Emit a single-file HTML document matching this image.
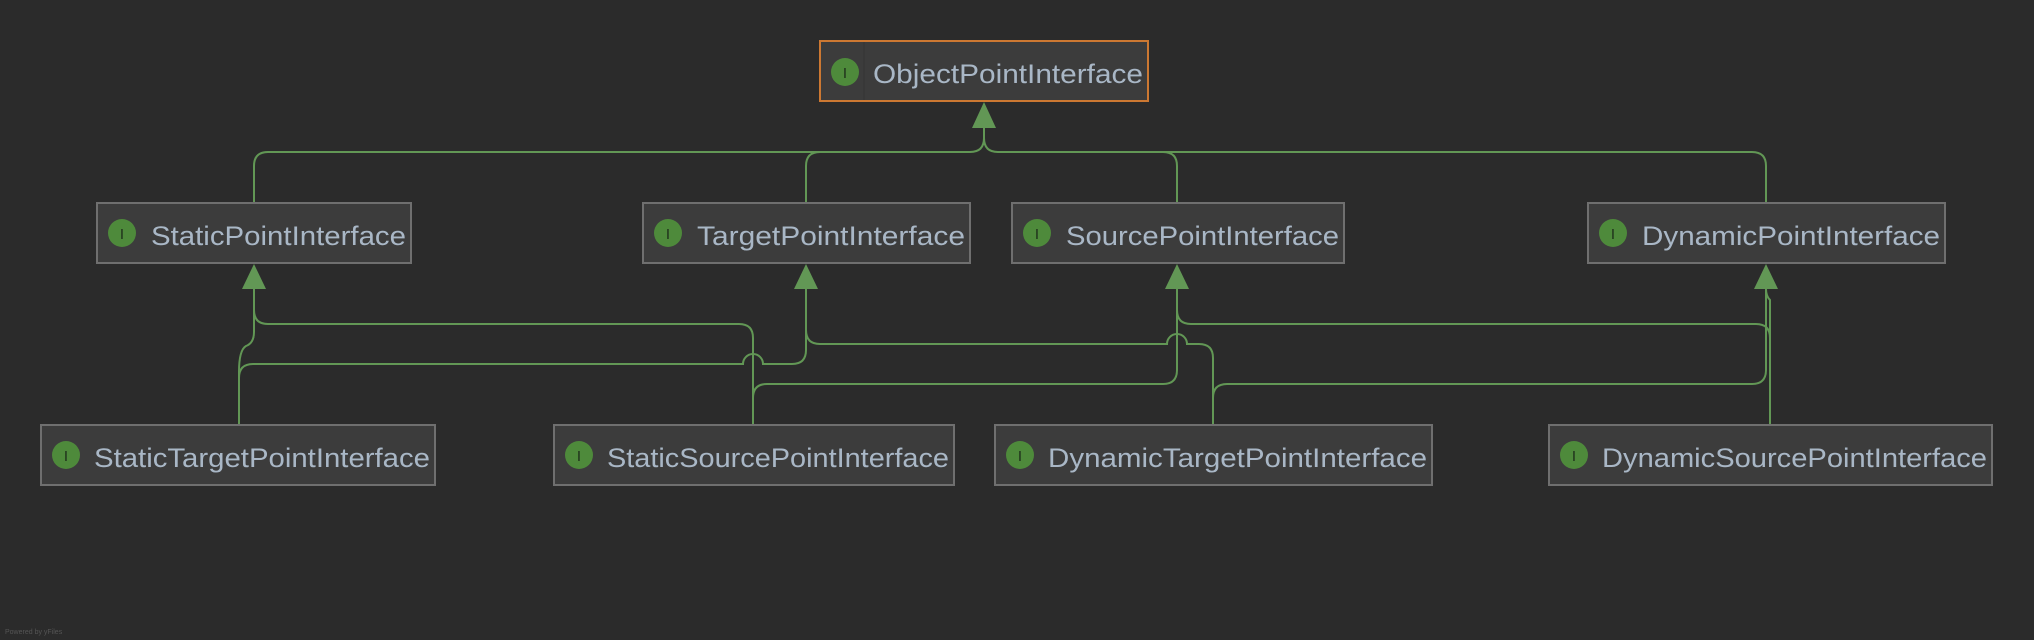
<!DOCTYPE html>
<html><head><meta charset="utf-8"><style>
html,body{margin:0;padding:0;background:#2b2b2b;width:2034px;height:640px;overflow:hidden}
svg{display:block}
text{font-family:"Liberation Sans",sans-serif}
</style></head><body>
<svg width="2034" height="640" viewBox="0 0 2034 640" xmlns="http://www.w3.org/2000/svg">
<rect width="2034" height="640" fill="#2b2b2b"/>
<g fill="none" stroke="#629755" stroke-width="2">
<path d="M984,127 V138 Q984,152 970,152 H268 Q254,152 254,166 V202"/>
<path d="M984,138 Q984,152 998,152 H1752 Q1766,152 1766,166 V202"/>
<path d="M820,152 Q806,152 806,166 V202"/>
<path d="M1163,152 Q1177,152 1177,166 V202"/>
<path d="M254,289 V310 Q254,324 268,324 H739 Q753,324 753,338 V425"/>
<path d="M254,300 V332 Q254,343 246,346 Q239,350 239,372 V425"/>
<path d="M239,378 Q239,364 253,364 H743 A10,10 0 0 1 763,364 H792 Q806,364 806,350 V289"/>
<path d="M806,289 V330 Q806,344 820,344 H1167 A10,10 0 0 1 1187,344 H1199 Q1213,344 1213,358 V425"/>
<path d="M753,425 V398 Q753,384 767,384 H1163 Q1177,384 1177,370 V289"/>
<path d="M1177,289 V310 Q1177,324 1191,324 H1756 Q1770,324 1770,338 V425"/>
<path d="M1770,425 V300 Q1766,296 1766,289"/>
<path d="M1213,398 Q1213,384 1227,384 H1752 Q1766,384 1766,370 V289"/>
</g>
<g fill="#629755">
<polygon points="984,102 972,128 996,128"/>
<polygon points="254,264 242,289 266,289"/>
<polygon points="806,264 794,289 818,289"/>
<polygon points="1177,264 1165,289 1189,289"/>
<polygon points="1766,264 1754,289 1778,289"/>
</g>
<g font-size="27" fill="#a9b7c6">
<!-- Object -->
<rect x="820" y="41" width="328" height="60" fill="#3c3c3c" stroke="#cc7832" stroke-width="2"/>
<line x1="864" y1="42" x2="864" y2="100" stroke="#353535" stroke-width="1"/>
<circle cx="845" cy="72" r="14" fill="#4e8a3b"/><text x="845" y="78" font-size="15" fill="#1e2e1a" text-anchor="middle" font-family="Liberation Serif">I</text>
<text x="873" y="83" textLength="270" lengthAdjust="spacingAndGlyphs">ObjectPointInterface</text>
<!-- Row 2 -->
<rect x="97" y="203" width="314" height="60" fill="#3c3c3c" stroke="#6f6f6f" stroke-width="2"/>
<circle cx="122" cy="233" r="14" fill="#4e8a3b"/><text x="122" y="239" font-size="15" fill="#1e2e1a" text-anchor="middle" font-family="Liberation Serif">I</text>
<text x="151" y="245" textLength="255" lengthAdjust="spacingAndGlyphs">StaticPointInterface</text>
<rect x="643" y="203" width="327" height="60" fill="#3c3c3c" stroke="#6f6f6f" stroke-width="2"/>
<circle cx="668" cy="233" r="14" fill="#4e8a3b"/><text x="668" y="239" font-size="15" fill="#1e2e1a" text-anchor="middle" font-family="Liberation Serif">I</text>
<text x="697" y="245" textLength="268" lengthAdjust="spacingAndGlyphs">TargetPointInterface</text>
<rect x="1012" y="203" width="332" height="60" fill="#3c3c3c" stroke="#6f6f6f" stroke-width="2"/>
<circle cx="1037" cy="233" r="14" fill="#4e8a3b"/><text x="1037" y="239" font-size="15" fill="#1e2e1a" text-anchor="middle" font-family="Liberation Serif">I</text>
<text x="1066" y="245" textLength="273" lengthAdjust="spacingAndGlyphs">SourcePointInterface</text>
<rect x="1588" y="203" width="357" height="60" fill="#3c3c3c" stroke="#6f6f6f" stroke-width="2"/>
<circle cx="1613" cy="233" r="14" fill="#4e8a3b"/><text x="1613" y="239" font-size="15" fill="#1e2e1a" text-anchor="middle" font-family="Liberation Serif">I</text>
<text x="1642" y="245" textLength="298" lengthAdjust="spacingAndGlyphs">DynamicPointInterface</text>
<!-- Row 3 -->
<rect x="41" y="425" width="394" height="60" fill="#3c3c3c" stroke="#6f6f6f" stroke-width="2"/>
<circle cx="66" cy="455" r="14" fill="#4e8a3b"/><text x="66" y="461" font-size="15" fill="#1e2e1a" text-anchor="middle" font-family="Liberation Serif">I</text>
<text x="94" y="467" textLength="336" lengthAdjust="spacingAndGlyphs">StaticTargetPointInterface</text>
<rect x="554" y="425" width="400" height="60" fill="#3c3c3c" stroke="#6f6f6f" stroke-width="2"/>
<circle cx="579" cy="455" r="14" fill="#4e8a3b"/><text x="579" y="461" font-size="15" fill="#1e2e1a" text-anchor="middle" font-family="Liberation Serif">I</text>
<text x="607" y="467" textLength="342" lengthAdjust="spacingAndGlyphs">StaticSourcePointInterface</text>
<rect x="995" y="425" width="437" height="60" fill="#3c3c3c" stroke="#6f6f6f" stroke-width="2"/>
<circle cx="1020" cy="455" r="14" fill="#4e8a3b"/><text x="1020" y="461" font-size="15" fill="#1e2e1a" text-anchor="middle" font-family="Liberation Serif">I</text>
<text x="1048" y="467" textLength="379" lengthAdjust="spacingAndGlyphs">DynamicTargetPointInterface</text>
<rect x="1549" y="425" width="443" height="60" fill="#3c3c3c" stroke="#6f6f6f" stroke-width="2"/>
<circle cx="1574" cy="455" r="14" fill="#4e8a3b"/><text x="1574" y="461" font-size="15" fill="#1e2e1a" text-anchor="middle" font-family="Liberation Serif">I</text>
<text x="1602" y="467" textLength="385" lengthAdjust="spacingAndGlyphs">DynamicSourcePointInterface</text>
</g>
<text x="5" y="634" font-size="7" fill="#555">Powered by yFiles</text>
</svg>
</body></html>
